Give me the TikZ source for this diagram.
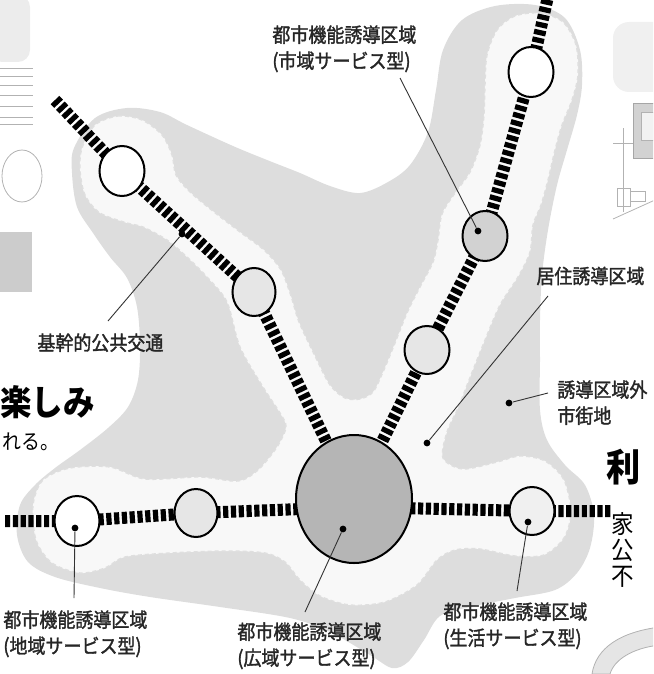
\documentclass[tikz,border=0pt]{standalone}
\usepackage{fontspec}
\usepackage{tikz}
\usetikzlibrary{shapes.geometric}
\newfontfamily\jp[FakeStretch=0.9]{Noto Sans CJK JP}
\newfontfamily\jpm[FakeStretch=0.9, FakeBold=1.6]{Noto Sans CJK JP}

\definecolor{outergray}{HTML}{DDDDDD}
\definecolor{zonewhite}{HTML}{F8F8F8}
\definecolor{hubgray}{HTML}{B5B5B5}
\definecolor{stgray}{HTML}{E6E6E6}
\definecolor{stmid}{HTML}{D2D2D2}

\pgfdeclarelayer{bg}
\pgfdeclarelayer{mid}
\pgfsetlayers{bg,mid,main}

\begin{document}
\begin{tikzpicture}[x=0.5pt,y=-0.5pt,
  station/.style={ellipse, draw=black, line width=1pt, fill=white, inner sep=0pt,
    minimum width=22.5pt, minimum height=25pt},
  hub/.style={station, fill=hubgray, minimum width=58pt, minimum height=64pt},
  rail/.style={line width=6pt, dash pattern=on 2.6pt off 1.3pt},
  callout/.style={draw=black!80, line width=0.45pt},
  spot/.style={circle, fill=black, inner sep=0pt, minimum size=3.4pt},
  lbl/.style={font=\jpm\fontsize{10}{13}\selectfont, text=black!85, inner sep=0pt, align=left},
  sketch/.style={draw=gray!60, line width=0.4pt}]
\useasboundingbox (0,0) rectangle (653,674);
\clip (0,0) rectangle (653,674);

% stations
\node[station] (nw1) at (122,171) {};
\node[station, fill=stgray, minimum width=21.5pt, minimum height=24pt] (nw2) at (254,292) {};
\node[station] (ne1) at (531,72) {};
\node[station, fill=stmid] (ne2) at (485,236) {};
\node[station, fill=stgray, minimum height=24pt] (ne3) at (427,350) {};
\node[hub] (hub) at (354,499) {};
\node[station] (w1) at (77,521) {};
\node[station, fill=stgray, minimum width=21.5pt, minimum height=24pt] (w2) at (196,513) {};
\node[station, fill=stgray!60!white, minimum height=24pt] (e1) at (532,511) {};

\coordinate (railnw) at (55,100);
\coordinate (railne) at (549,-8);
\coordinate (railw) at (5,521);
\coordinate (raile) at (611,511);
\coordinate (hubline) at (354,507);

% zones and rails
\begin{pgfonlayer}{bg}
\fill[outergray] plot[smooth cycle, tension=0.55] coordinates {
  (74,148) (95,118) (127,108) (160,112) (187,125) (233,146) (267,160) (300,173)
  (330,186) (360,193) (388,182) (410,165) (428,132) (436,90) (443,50) (462,20)
  (495,6) (535,5) (565,18) (580,50) (582,85) (577,115) (567,150) (557,185)
  (548,230) (542,275) (540,320) (540,360) (540,410) (547,440) (565,465) (585,485)
  (594,515) (590,548) (577,573) (555,590) (515,598) (470,607) (440,616) (424,640)
  (408,662) (392,668) (370,655) (330,632) (290,618) (220,607) (150,597) (100,588)
  (55,577) (28,562) (17,535) (20,505) (35,485) (55,468) (80,450) (108,428)
  (128,407) (138,380) (140,345) (137,307) (127,278) (110,257) (93,233) (77,207)
  (72,173)};
\filldraw[fill=zonewhite, draw=gray!25, line width=0.7pt, dash pattern=on 2pt off 1.5pt]
  plot[smooth cycle, tension=0.5] coordinates {
  (95,125) (118,116) (142,120) (162,135) (172,155) (176,175) (190,192) (214,212)
  (240,232) (264,250) (281,270) (291,296) (299,322) (315,356) (330,385) (345,398)
  (360,399) (373,392) (383,372) (395,343) (407,313) (420,287) (433,262) (438,240)
  (442,214) (455,193) (470,172) (480,145) (484,115) (485,85) (487,55) (497,30)
  (515,16) (540,13) (563,22) (576,45) (578,75) (572,100) (562,125) (555,150)
  (548,180) (541,205) (533,225) (530,252) (518,277) (500,305) (485,340) (471,375)
  (458,408) (447,432) (443,458) (463,469) (497,462) (520,456) (545,461) (564,480)
  (571,512) (564,538) (544,555) (515,556) (480,549) (455,550) (437,560) (417,585)
  (385,602) (350,605) (320,596) (300,580) (285,562) (265,553) (225,551) (170,553)
  (125,557) (105,568) (80,573) (52,563) (36,540) (33,505) (43,480) (70,468)
  (110,467) (145,479) (200,477) (238,481) (258,470) (277,447) (286,427) (280,413)
  (263,387) (240,347) (227,302) (207,277) (187,257) (167,240) (143,227) (127,223)
  (100,213) (85,195) (80,170) (82,148)};
\end{pgfonlayer}
\begin{pgfonlayer}{mid}
\draw[rail] (railnw) -- (nw1.center) -- (nw2.center) -- (hub.center);
\draw[rail] (railne) -- (ne1.center) -- (ne2.center) -- (ne3.center) -- (hub.center);
\draw[rail] (railw) -- (w1.center) -- (w2.center) -- (hubline) -- (e1.center) -- (raile);
\end{pgfonlayer}

% labels
\node[lbl, anchor=north west] (lshiiki) at (272,25) {都市機能誘導区域\\(市域サービス型)};
\node[lbl, anchor=north west] (lkikan) at (37,333) {基幹的公共交通};
\node[lbl, anchor=west] (lkyoju) at (536,276) {居住誘導区域};
\node[lbl, anchor=north west] (lgai) at (557,380) {誘導区域外\\市街地};
\node[lbl, anchor=north west] (lkoiki) at (237,622) {都市機能誘導区域\\(広域サービス型)};
\node[lbl, anchor=north west] (lchiiki) at (3,610) {都市機能誘導区域\\(地域サービス型)};
\node[lbl, anchor=north west] (lseikatsu) at (443,602) {都市機能誘導区域\\(生活サービス型)};

% leaders
\node[spot] (dshiiki) at (478,231) {};
\node[spot] (dkikan) at (182,234) {};
\node[spot] (dkyoju) at (427,443) {};
\node[spot] (dgai) at (509,403) {};
\node[spot] (dkoiki) at (343,529) {};
\node[spot] (dchiiki) at (75,528) {};
\node[spot] (dseikatsu) at (528,522) {};
\coordinate (kshiiki) at (400,78);
\coordinate (kkikan) at (108,321);
\coordinate (kkyoju) at (548,296);
\coordinate (kgai) at (548,393);
\coordinate (kkoiki) at (305,612);
\coordinate (kchiiki) at (74,598);
\coordinate (kseikatsu) at (517,591);
\draw[callout] (dshiiki) -- (kshiiki);
\draw[callout] (dkikan) -- (kkikan);
\draw[callout] (dkyoju) -- (kkyoju);
\draw[callout] (dgai) -- (kgai);
\draw[callout] (dkoiki) -- (kkoiki);
\draw[callout] (dchiiki) -- (kchiiki);
\draw[callout] (dseikatsu) -- (kseikatsu);

% neighbouring page text
\node[font=\jp\bfseries\fontsize{17.5}{19}\selectfont, inner sep=0pt, anchor=west] (tanoshimi) at (0,402) {楽しみ};
\node[font=\jp\fontsize{10.5}{12}\selectfont, inner sep=0pt, anchor=west] (reru) at (2,442) {れる。};
\node[font=\jp\bfseries\fontsize{19}{21}\selectfont, inner sep=0pt, anchor=west] (ri) at (606,467) {利};
\node[font=\jp\fontsize{12.5}{13}\selectfont, inner sep=0pt, anchor=north west, align=left] (kou) at (611,512) {家\\公\\不};

% neighbouring sketches
\fill[gray!15, rounded corners=6pt] (-10,-5) rectangle (30,62);
\foreach \y in {68,76,85,95,106,117,124}
  \draw[sketch] (0,\y) -- (33,\y);
\draw[sketch] (22,176) ellipse (10pt and 13pt);
\fill[gray!40] (0,232) rectangle (32,292);
\fill[gray!12, rounded corners=8pt] (613,22) rectangle (670,92);
\filldraw[fill=gray!35, draw=gray!70] (633,103) rectangle (660,158);
\filldraw[fill=gray!10, draw=gray!60] (641,112) rectangle (660,140);
\draw[sketch] (613,143) -- (633,143);
\draw[sketch] (623,128) -- (623,212);
\draw[sketch] (613,219) -- (655,200);
\draw[sketch] (617,188) rectangle (630,206) (630,191) rectangle (645,201);
\filldraw[fill=gray!20, draw=gray!60] (592,674) .. controls (596,648) and (620,632) .. (660,627)
  -- (660,645) .. controls (632,648) and (614,660) .. (610,674) -- cycle;
\end{tikzpicture}
\end{document}
